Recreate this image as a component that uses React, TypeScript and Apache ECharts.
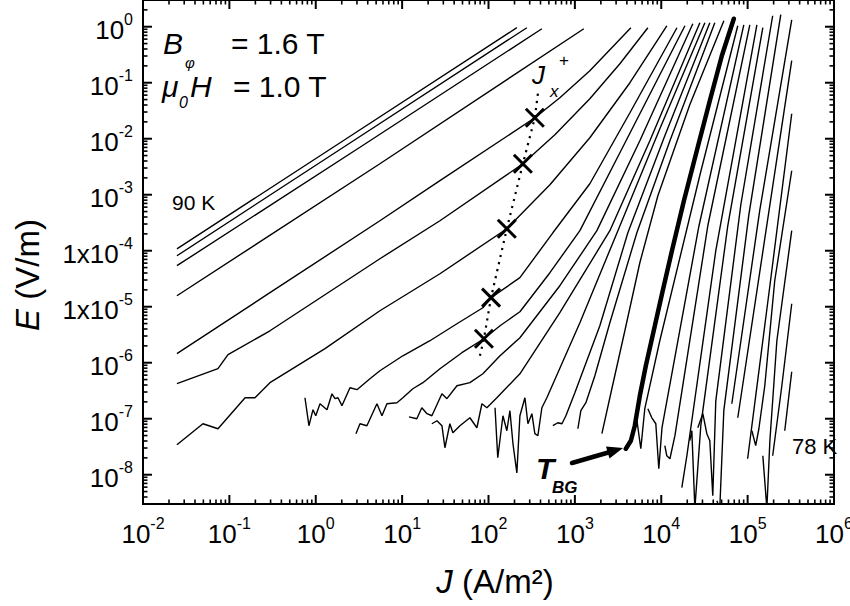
import React, { useEffect, useRef } from 'react';
import * as echarts from 'echarts';

const FONT = 'Arial, "Liberation Sans", Helvetica, sans-serif';

// ---- axes -----------------------------------------------------------------
const xRange = [0.01, 1e6];
const yRange = [3e-9, 3];
const xMajorTicks = [1e-2, 1e-1, 1e0, 1e1, 1e2, 1e3, 1e4, 1e5, 1e6];
const xTickBases = ['10', '10', '10', '10', '10', '10', '10', '10', '10'];
const xTickExponents = ['-2', '-1', '0', '1', '2', '3', '4', '5', '6'];
const yMajorTicks = [1e0, 1e-1, 1e-2, 1e-3, 1e-4, 1e-5, 1e-6, 1e-7, 1e-8];
const yTickBases = ['10', '10', '10', '10', '1x10', '1x10', '10', '10', '10'];
const yTickExponents = ['0', '-1', '-2', '-3', '-4', '-5', '-6', '-7', '-8'];
const minorMultipliers = [2, 3, 4, 5, 6, 7, 8, 9];
const xMinorDecades = [-2, -1, 0, 1, 2, 3, 4, 5];
const yMinorDecades = [-9, -8, -7, -6, -5, -4, -3, -2, -1, 0];

// ---- E(J) curves, 90 K (top left) ... 78 K (right) ------------------------
const curve01 = [[0.0247, 1.08e-4], [2.3, 0.0102], [213, 0.96]];
const curve02 = [[0.0247, 8.13e-5], [2.62, 8.83e-3], [278, 0.96]];
const curve03 = [[0.0247, 5.4e-5], [3.25, 7.05e-3], [415, 0.92]];
const curve04 = [[0.0247, 1.57e-5], [5.53, 3.57e-3], [1270, 0.92]];
const curve05 = [[0.0247, 1.45e-6], [0.295, 1.78e-5], [5.53, 3.43e-4], [27.4, 1.78e-3], [344, 0.0237], [670, 0.054], [1490, 0.164], [4450, 0.96]];
const curve06 = [[0.0247, 4.22e-7], [0.0738, 7.82e-7], [0.0964, 1.39e-6], [0.295, 3.72e-6], [5.53, 7.19e-5], [27.4, 3.43e-4], [250, 3.57e-3], [587, 0.0118], [1490, 0.0518], [3320, 0.218], [7000, 0.96]];
const curve07 = [[0.0247, 3.43e-8], [0.0494, 8.13e-8], [0.0738, 6.62e-8], [0.152, 2.37e-7], [0.198, 2.37e-7], [0.295, 4.4e-7], [1.28, 1.78e-6], [5.53, 8.47e-6], [27.4, 3.88e-5], [163, 2.47e-4], [514, 1.51e-3], [1490, 0.0104], [4340, 0.1], [11600, 1.04]];
const curve08 = [[0.75, 2.37e-7], [0.834, 7.5e-8], [0.929, 1.45e-7], [1.0, 1.13e-7], [1.12, 1.85e-7], [1.35, 1.45e-7], [1.54, 2.79e-7], [1.67, 2.28e-7], [1.81, 2.37e-7], [2.01, 1.71e-7], [2.49, 3.57e-7], [3.0, 3.3e-7], [4.24, 5.18e-7], [5.53, 7.19e-7], [10.2, 1.33e-6], [21.0, 2.47e-6], [43.1, 4.97e-6], [86.1, 9.59e-6], [107, 1.45e-5], [231, 3.3e-5], [556, 2.09e-4], [1490, 1.57e-3], [4340, 0.0291], [15200, 0.959]];
const curve09 = [[2.92, 5.4e-8], [3.25, 8.13e-8], [3.91, 7.5e-8], [5.11, 1.85e-7], [5.84, 1.13e-7], [6.67, 1.85e-7], [8.71, 1.93e-7], [10.2, 2.37e-7], [13.3, 3.43e-7], [17.4, 4.4e-7], [27.4, 7.82e-7], [49.2, 1.51e-6], [88.5, 2.68e-6], [136, 4.57e-6], [231, 8.13e-6], [514, 4.05e-5], [1143, 2.28e-4], [3320, 5.62e-3], [18800, 1.04]];
const curve10 = [[12.0, 1.08e-7], [14.8, 1.0e-7], [16.9, 1.57e-7], [19.4, 1.23e-7], [22.1, 1.13e-7], [28.9, 2.79e-7], [33.0, 2.28e-7], [43.1, 3.88e-7], [60.9, 4.4e-7], [86.1, 6.35e-7], [136, 1.33e-6], [231, 2.79e-6], [670, 2.37e-5], [1798, 2.28e-4], [5650, 9.2e-3], [23200, 1.13]];
const curve11 = [[22.1, 8.13e-8], [25.3, 9.2e-8], [28.9, 7.5e-8], [31.3, 3.03e-8], [35.7, 8.13e-8], [38.7, 5.62e-8], [46.7, 7.5e-8], [60.9, 1.04e-7], [73.4, 6.9e-8], [83.9, 1.85e-7], [95.8, 1.57e-7], [125, 2.37e-7], [231, 6.35e-7], [670, 7.82e-6], [2541, 2.28e-4], [7380, 9.2e-3], [28000, 1.18]];
const curve12 = [[119, 1.57e-7], [128, 2.01e-8], [147, 1.13e-7], [163, 6.1e-8], [177, 1.39e-7], [192, 3.57e-8], [213, 1.08e-8], [231, 1.13e-7], [264, 2.37e-7], [286, 8.13e-8], [318, 1.23e-7], [344, 5.4e-8], [373, 4.97e-8], [415, 1.57e-7], [474, 2.37e-7], [1143, 5.18e-6], [3148, 2.28e-4], [9630, 0.0151], [32000, 1.18]];
const curve13 = [[556, 7.5e-8], [635, 8.47e-8], [708, 8.13e-8], [787, 1.13e-7], [1000, 2.91e-7], [1946, 4.57e-6], [4105, 2.09e-4], [11000, 0.0113], [36500, 1.18]];
const curve14 = [[1083, 6.62e-8], [1173, 1.39e-7], [1341, 1.93e-7], [1704, 5.86e-7], [2541, 5.18e-6], [5220, 2.09e-4], [12600, 9.2e-3], [41700, 1.18]];
const curve15 = [[2055, 5.4e-8], [2680, 3.43e-7], [3790, 3.72e-6], [5650, 6.1e-5], [9140, 9.59e-4], [21400, 0.0405], [53100, 1.28]];
const curveTBG = [[3890, 2.91e-8], [4450, 4.05e-8], [4940, 7.5e-8], [5650, 2.57e-7], [6630, 8.83e-7], [8430, 4.57e-6], [10400, 1.93e-5], [13300, 1.0e-4], [18300, 7.81e-4], [25800, 6.1e-3], [36500, 0.0477], [50300, 0.303], [69200, 1.39]];
const curve17 = [[5080, 1.28e-7], [5800, 2.91e-8], [6450, 1.51e-7], [9620, 2.47e-6], [27900, 2.18e-3], [76900, 1.04]];
const curve18 = [[7000, 1.51e-7], [7780, 1.04e-7], [8650, 8.13e-8], [9370, 1.28e-8], [10200, 6.9e-8], [27200, 2.68e-4], [90300, 1.08]];
const curve19 = [[11000, 3.3e-8], [11600, 2.18e-8], [12600, 1.93e-8], [14400, 4.97e-8], [34600, 2.79e-4], [106000, 1.08]];
const curve20 = [[17300, 5.86e-9], [19800, 2.18e-8], [42800, 1.0e-4], [128000, 1.08]];
const curve21 = [[21400, 4.05e-8], [22600, 6.1e-8], [24500, 2.5e-9], [28700, 7.5e-8], [58900, 2.79e-4], [150000, 0.959]];
const curve22 = [[26500, 6.9e-8], [30300, 1.23e-7], [33700, 5.4e-8], [36500, 4.05e-8], [39500, 4.22e-9], [42800, 2.09e-7], [83400, 6.62e-4], [195000, 1.57]];
const curve23 = [[44000, 3.43e-9], [47600, 2.5e-9], [53000, 1.39e-7], [103000, 4.22e-4], [242000, 1.64]];
const curve24 = [[65600, 1.85e-7], [138000, 5.18e-4], [324000, 1.33]];
const curve25 = [[76900, 1.04e-7], [158000, 1.64e-4], [324000, 0.247]];
const curve26 = [[100000, 1.93e-8], [181000, 2.37e-5], [324000, 0.0279]];
const curve27 = [[112000, 6.1e-8], [124000, 3.3e-8], [135000, 6.62e-8], [158000, 3.88e-7], [206000, 2.91e-5], [324000, 2.68e-3]];
const curve28 = [[150000, 2.18e-8], [167000, 2.5e-9], [181000, 4.05e-8], [218000, 2.47e-6], [324000, 2.28e-4]];
const curve29 = [[195000, 2.18e-8], [249000, 3.88e-7], [324000, 1.13e-5]];
const curve30 = [[269000, 6.1e-8], [324000, 6.9e-7]];

const thinCurves = [
  curve01, curve02, curve03, curve04, curve05, curve06, curve07, curve08, curve09, curve10,
  curve11, curve12, curve13, curve14, curve15, curve17, curve18, curve19, curve20, curve21,
  curve22, curve23, curve24, curve25, curve26, curve27, curve28, curve29, curve30,
];

// J_x^+ crossover points and the dotted guide through them
const jxPlusPoints = [[88.5, 2.68e-6], [107, 1.45e-5], [163, 2.47e-4], [250, 3.57e-3], [344, 0.0237]];
const jxPlusGuide = [[79.5, 1.33e-6], [88.5, 2.68e-6], [107, 1.45e-5], [163, 2.47e-4], [250, 3.57e-3], [344, 0.0237], [373, 0.0636]];

const BASE_SIZE = 26;
const SUP_SIZE = 16;
// Arial / Liberation Sans advance widths (em) for the glyphs used in tick labels
const glyphW: Record<string, number> = { '0': 0.556, '1': 0.556, '2': 0.556, '3': 0.556, '4': 0.556, '5': 0.556, '6': 0.556, '7': 0.556, '8': 0.556, '9': 0.556, '-': 0.333, x: 0.5 };
const textW = (s: string, fs: number) => s.split('').reduce((a, c) => a + (glyphW[c] ?? 0.556), 0) * fs;

const renderAxes = (_params: any, api: any) => {
  const children: any[] = [];
  const bl = api.coord([xRange[0], yRange[0]]);
  const tr = api.coord([xRange[1], yRange[1]]);
  const left = bl[0];
  const bottom = bl[1];
  const right = tr[0];
  const top = tr[1];
  const tick = (x1: number, y1: number, x2: number, y2: number, w: number) =>
    children.push({ type: 'line', shape: { x1, y1, x2, y2 }, style: { stroke: '#000', lineWidth: w } });
  const t = (x: number, y: number, text: string, fs: number, align: string) =>
    children.push({
      type: 'text', x, y,
      style: { text, fontSize: fs, fontFamily: FONT, fill: '#000', align, verticalAlign: 'middle' },
    });

  xMajorTicks.forEach((v, i) => {
    const x = api.coord([v, yRange[0]])[0];
    tick(x, bottom, x, bottom - 9, 2);
    tick(x, top, x, top + 9, 2);
    const bw = textW(xTickBases[i], BASE_SIZE);
    const sw = textW(xTickExponents[i], SUP_SIZE);
    const x0 = x - (bw + sw) / 2;
    t(x0, bottom + 30, xTickBases[i], BASE_SIZE, 'left');
    t(x0 + bw, bottom + 19, xTickExponents[i], SUP_SIZE, 'left');
  });
  xMinorDecades.forEach((e) => minorMultipliers.forEach((m) => {
    const v = m * Math.pow(10, e);
    if (v <= xRange[0] || v >= xRange[1]) return;
    const x = api.coord([v, yRange[0]])[0];
    tick(x, bottom, x, bottom - 4.5, 1.6);
    tick(x, top, x, top + 4.5, 1.6);
  }));
  yMajorTicks.forEach((v, i) => {
    const y = api.coord([xRange[0], v])[1];
    tick(left, y, left + 9, y, 2);
    tick(right, y, right - 9, y, 2);
    const rx = left - 10;
    const sw = textW(yTickExponents[i], SUP_SIZE);
    t(rx, y - 7, yTickExponents[i], SUP_SIZE, 'right');
    t(rx - sw, y + 3, yTickBases[i], BASE_SIZE, 'right');
  });
  yMinorDecades.forEach((e) => minorMultipliers.forEach((m) => {
    const v = m * Math.pow(10, e);
    if (v <= yRange[0] * 1.01 || v >= yRange[1] * 0.99) return;
    const y = api.coord([xRange[0], v])[1];
    tick(left, y, left + 4.5, y, 1.6);
    tick(right, y, right - 4.5, y, 1.6);
  }));
  return { type: 'group', children };
};

const renderCross = (_params: any, api: any) => {
  const p = api.coord([api.value(0), api.value(1)]);
  const h = 9;
  const st = { stroke: '#000', lineWidth: 3 };
  return {
    type: 'group',
    children: [
      { type: 'line', shape: { x1: p[0] - h, y1: p[1] - h, x2: p[0] + h, y2: p[1] + h }, style: st },
      { type: 'line', shape: { x1: p[0] - h, y1: p[1] + h, x2: p[0] + h, y2: p[1] - h }, style: st },
    ],
  };
};

const txt = (x: number, y: number, text: string, size: number, extra: any = {}) => ({
  type: 'text', x, y, z: 100,
  style: { text, fill: '#000', fontFamily: FONT, fontSize: size, verticalAlign: 'middle', align: 'left', ...extra },
});

export default function App() {
  const ref = useRef<HTMLDivElement>(null);
  useEffect(() => {
    if (!ref.current) return;
    const chart = echarts.init(ref.current, undefined, { renderer: 'svg' });
    const series: any[] = thinCurves.map((c) => ({
      type: 'line', data: c, showSymbol: false, symbol: 'none', silent: true, z: 3,
      lineStyle: { color: '#000', width: 1.4 },
    }));
    series.push({
      type: 'line', data: curveTBG, showSymbol: false, symbol: 'none', silent: true, z: 4,
      lineStyle: { color: '#000', width: 4.5, cap: 'round' },
    });
    series.push({
      type: 'line', data: jxPlusGuide, showSymbol: false, symbol: 'none', silent: true, z: 4,
      lineStyle: { color: '#000', width: 2.2, type: [2.2, 5] },
    });
    series.push({ type: 'custom', data: jxPlusPoints, renderItem: renderCross, silent: true, z: 6 });
    series.push({ type: 'custom', data: [[1, 1e-3]], renderItem: renderAxes, silent: true, clip: false, z: 10 });

    const arrowTip = [623, 448];
    chart.setOption({
      animation: false,
      backgroundColor: '#fff',
      grid: { left: 143, right: 16, top: 0, bottom: 102, show: true, borderColor: '#000', borderWidth: 2 },
      xAxis: {
        type: 'log', logBase: 10, min: xRange[0], max: xRange[1],
        axisLine: { show: false }, axisTick: { show: false }, axisLabel: { show: false }, splitLine: { show: false },
      },
      yAxis: {
        type: 'log', logBase: 10, min: yRange[0], max: yRange[1],
        axisLine: { show: false }, axisTick: { show: false }, axisLabel: { show: false }, splitLine: { show: false },
      },
      series,
      graphic: [
        txt(163, 43, 'B', 30, { fontStyle: 'italic' }),
        txt(185, 62, 'φ', 15, { fontStyle: 'italic' }),
        txt(231, 43, '= 1.6 T', 30),
        txt(162, 86, 'μ', 30, { fontStyle: 'italic' }),
        txt(179, 102, '0', 16, { fontStyle: 'italic' }),
        txt(190, 86, 'H', 30, { fontStyle: 'italic' }),
        txt(233, 86, '= 1.0 T', 30),
        txt(172, 202, '90 K', 21),
        txt(792, 446, '78 K', 22),
        txt(532, 75, 'J', 26, { fontStyle: 'italic' }),
        txt(550, 91, 'x', 17, { fontStyle: 'italic' }),
        txt(559, 60, '+', 17),
        txt(536, 468, 'T', 30, { fontStyle: 'italic', fontWeight: 'bold' }),
        txt(552, 487, 'BG', 17, { fontStyle: 'italic', fontWeight: 'bold' }),
        {
          type: 'line', z: 100,
          shape: { x1: 572, y1: 463, x2: 610, y2: 452 },
          style: { stroke: '#000', lineWidth: 4.5, lineCap: 'round' },
        },
        {
          type: 'polygon', z: 100,
          shape: { points: [arrowTip, [606, 446.5], [609.5, 458.5]] },
          style: { fill: '#000' },
        },
        {
          type: 'text', x: 27, y: 275, rotation: Math.PI / 2, z: 100,
          style: {
            text: '{i|E} (V/m)', fill: '#000', fontFamily: FONT, fontSize: 33, align: 'center', verticalAlign: 'middle',
            rich: { i: { fontStyle: 'italic', fontSize: 33, fontFamily: FONT, fill: '#000' } },
          },
        },
        {
          type: 'text', x: 495, y: 581, z: 100,
          style: {
            text: '{i|J} (A/m²)', fill: '#000', fontFamily: FONT, fontSize: 33, align: 'center', verticalAlign: 'middle',
            rich: { i: { fontStyle: 'italic', fontSize: 33, fontFamily: FONT, fill: '#000' } },
          },
        },
      ],
    });
    return () => chart.dispose();
  }, []);
  return <div ref={ref} style={{ position: 'absolute', left: 0, top: 0, width: 850, height: 606 }} />;
}
